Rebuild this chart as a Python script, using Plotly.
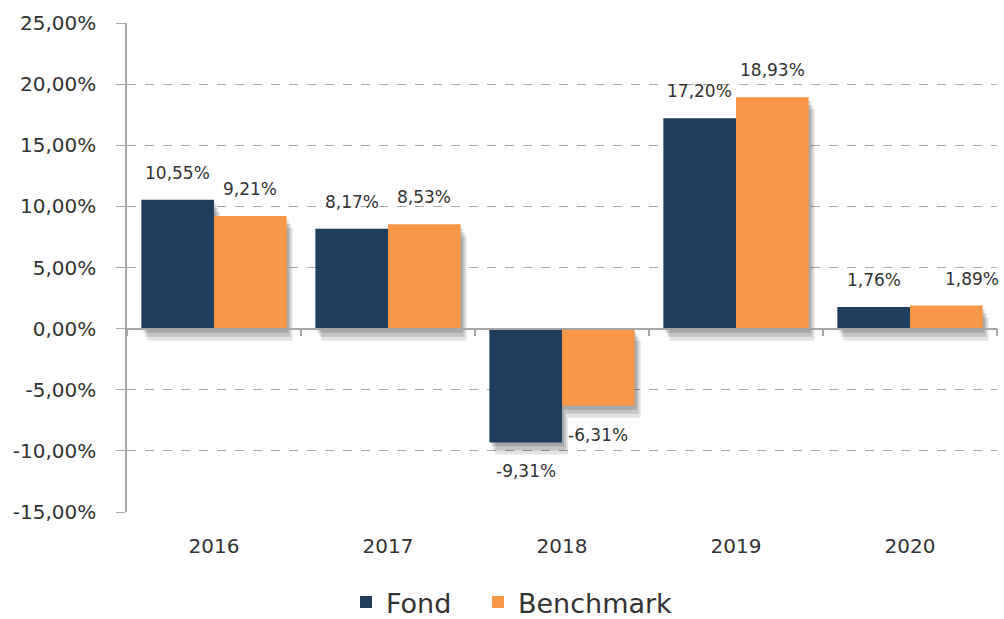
import plotly.graph_objects as go

years = ["2016", "2017", "2018", "2019", "2020"]
fond = [10.55, 8.17, -9.31, 17.20, 1.76]
benchmark = [9.21, 8.53, -6.31, 18.93, 1.89]
y_tickvals = [25, 20, 15, 10, 5, 0, -5, -10, -15]
y_ticktext = ["25,00%", "20,00%", "15,00%", "10,00%", "5,00%", "0,00%", "-5,00%", "-10,00%", "-15,00%"]

C_FOND = "#1F3E5E"
C_BENCH = "#F79747"
GRID = "#A6A6A6"
TXT = "#333333"
FONT = "DejaVu Sans"

def lab(v):
    return f"{v:.2f}".replace(".", ",") + "%"

YMIN, YMAX = -15, 25
PX_PER_CAT = 870 / 5
PX_PER_UNIT = 489 / (YMAX - YMIN)

# shadow layers: (right px, down px, opacity)
shadow_layers = [(2, 4, 0.14), (4, 8, 0.14), (6, 12, 0.11)]

fig = go.Figure()
layout_axes = {}
for k, (sx, sy, op) in enumerate(shadow_layers):
    n = "" if k == 0 else str(k + 1)
    dx = sx / PX_PER_CAT
    dy = sy / PX_PER_UNIT
    for vals in (fond, benchmark):
        fig.add_trace(go.Bar(x=years, y=vals, marker=dict(color=f"rgba(0,0,0,{op})", line=dict(width=0)),
                             showlegend=False, hoverinfo="skip", xaxis="x" + n, yaxis="y" + n))
    xa = dict(range=[-0.5 - dx, 4.5 - dx], visible=False, showgrid=False, automargin=False)
    ya = dict(range=[YMIN + dy, YMAX + dy], visible=False, showgrid=False, zeroline=False, automargin=False)
    if k > 0:
        xa["overlaying"] = "x"
        ya["overlaying"] = "y"
        xa["anchor"] = "y" + n
        ya["anchor"] = "x" + n
    layout_axes["xaxis" + n] = xa
    layout_axes["yaxis" + n] = ya

M = str(len(shadow_layers) + 1)
fig.add_trace(go.Bar(name="Fond", x=years, y=fond, marker=dict(color=C_FOND, line=dict(width=0)),
                     xaxis="x" + M, yaxis="y" + M, legend="legend"))
fig.add_trace(go.Bar(name="Benchmark", x=years, y=benchmark, marker=dict(color=C_BENCH, line=dict(width=0)),
                     xaxis="x" + M, yaxis="y" + M, legend="legend2"))

zero_pos = (0 - YMIN) / (YMAX - YMIN)
layout_axes["xaxis" + M] = dict(
    overlaying="x", anchor="free", position=zero_pos, range=[-0.5, 4.5],
    showline=True, linecolor=GRID, linewidth=1.5,
    ticks="outside", tickson="boundaries", ticklen=7, tickcolor=GRID, tickwidth=1.5,
    ticklabelstandoff=200, tickfont=dict(family=FONT, size=20, color=TXT),
    showgrid=False, zeroline=False, automargin=False)
layout_axes["yaxis" + M] = dict(
    overlaying="y", anchor="x", range=[YMIN, YMAX],
    tickvals=y_tickvals, ticktext=y_ticktext,
    showline=True, linecolor=GRID, linewidth=1.5,
    ticks="outside", ticklen=9, tickcolor=GRID, tickwidth=1,
    ticklabelstandoff=16, tickfont=dict(family=FONT, size=20, color=TXT),
    showgrid=True, gridcolor=GRID, griddash="dash", gridwidth=1,
    zeroline=False, automargin=False)

# value labels (placed with the main axes' scales; numeric category index)
bar_half = PX_PER_CAT * (1 - 0.165) / 4
bench_label_dx = [0, 0, 0, 0, 26]
annotations = []
for vals, side, extra in ((fond, -1, [0] * 5), (benchmark, 1, bench_label_dx)):
    for i, (v, ex) in enumerate(zip(vals, extra)):
        pos = v >= 0
        annotations.append(dict(
            x=i, y=v, xref="x" + M, yref="y" + M, text=lab(v), showarrow=False,
            xshift=side * bar_half + ex, yshift=15 if pos else -17,
            yanchor="bottom" if pos else "top", xanchor="center",
            font=dict(family=FONT, size=17, color=TXT)))

leg_common = dict(orientation="h", xanchor="left", y=-0.185, yanchor="middle",
                  font=dict(family=FONT, size=27, color=TXT), itemwidth=30,
                  bgcolor="rgba(0,0,0,0)")

fig.update_layout(
    width=1004, height=619,
    margin=dict(l=127, r=7, t=23, b=107, autoexpand=False),
    paper_bgcolor="white", plot_bgcolor="white",
    barmode="group", bargap=0.165, bargroupgap=0,
    font=dict(family=FONT, color=TXT),
    annotations=annotations,
    legend=dict(x=0.2517, **leg_common),
    legend2=dict(x=0.4034, **leg_common),
    showlegend=True,
    **layout_axes,
)

fig.write_html("out.html")
